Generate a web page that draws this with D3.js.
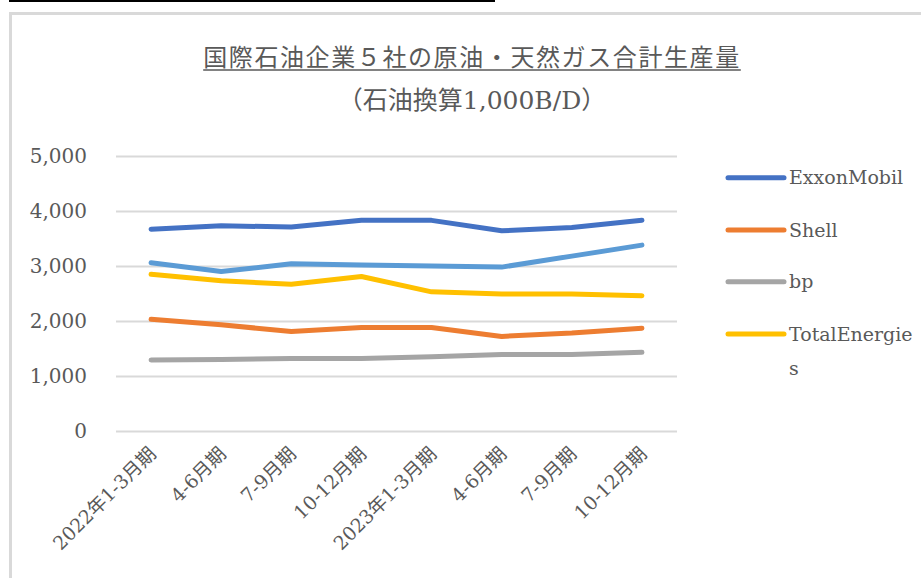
<!DOCTYPE html>
<html>
<head>
<meta charset="utf-8">
<script src="https://cdn.jsdelivr.net/npm/d3@7"></script>
<style>
  html, body { margin: 0; padding: 0; background: #fff; }
  svg { display: block; }
</style>
</head>
<body>
<svg id="chart" width="921" height="578"></svg>
<script>
// ---- Data ----
const categories = ["2022年1-3月期", "4-6月期", "7-9月期", "10-12月期", "2023年1-3月期", "4-6月期", "7-9月期", "10-12月期"];
const exxonMobil = [3670, 3730, 3710, 3830, 3830, 3640, 3700, 3830];
const shell = [2030, 1930, 1810, 1880, 1880, 1720, 1780, 1870];
const bp = [1290, 1300, 1320, 1320, 1350, 1390, 1390, 1430];
const totalEnergies = [2850, 2730, 2670, 2810, 2530, 2490, 2490, 2460];
const chevron = [3060, 2900, 3040, 3020, 3000, 2980, 3180, 3380];
const yTicks = [0, 1000, 2000, 3000, 4000, 5000];
const titleText = "国際石油企業５社の原油・天然ガス合計生産量";
const subtitleText = "（石油換算1,000B/D）";

const series = [
  { name: "ExxonMobil", values: exxonMobil, color: "#4472C4", legend: ["ExxonMobil"] },
  { name: "Shell", values: shell, color: "#ED7D31", legend: ["Shell"] },
  { name: "bp", values: bp, color: "#A5A5A5", legend: ["bp"] },
  { name: "TotalEnergies", values: totalEnergies, color: "#FFC000", legend: ["TotalEnergie", "s"] },
  { name: "Chevron", values: chevron, color: "#5B9BD5", legend: null }
];

// ---- Layout ----
const svg = d3.select("#chart");
const textColor = "#595959";
const latinFont = "'DejaVu Serif', 'Noto Sans CJK JP', serif";
const cjkFont = "'Noto Sans CJK JP', 'DejaVu Serif', sans-serif";

svg.append("rect").attr("width", 921).attr("height", 578).attr("fill", "#fff");

// top black rule (fragment of page above)
svg.append("line").attr("x1", 9).attr("x2", 495).attr("y1", 1).attr("y2", 1)
  .attr("stroke", "#000").attr("stroke-width", 2);

// chart frame
svg.append("rect").attr("x", 10.5).attr("y", 13.5).attr("width", 940).attr("height", 600)
  .attr("fill", "none").attr("stroke", "#d9d9d9").attr("stroke-width", 3);

const plot = { left: 116, right: 677, top: 156, bottom: 431 };

const x = d3.scaleBand().domain(d3.range(categories.length)).range([plot.left, plot.right]);
const y = d3.scaleLinear().domain([0, 5000]).range([plot.bottom, plot.top]);
const cx = i => x(i) + x.bandwidth() / 2;

// Y axis with gridlines
const yAxis = svg.append("g").attr("transform", `translate(${plot.left},0)`)
  .call(d3.axisLeft(y).tickValues(yTicks).tickFormat(d3.format(","))
    .tickSize(-(plot.right - plot.left)).tickPadding(29));
yAxis.select(".domain").remove();
yAxis.selectAll(".tick line").attr("stroke", "#d9d9d9").attr("stroke-width", 2);
yAxis.selectAll(".tick text").attr("fill", textColor).style("font-family", latinFont)
  .style("font-size", "20px").attr("dy", "0.3em");

// X axis labels
const xAxis = svg.append("g").attr("transform", `translate(0,${plot.bottom})`)
  .call(d3.axisBottom(x).tickFormat(i => categories[i]).tickSize(0).tickPadding(0));
xAxis.select(".domain").remove();
xAxis.selectAll(".tick text")
  .attr("fill", textColor).style("font-family", latinFont).style("font-size", "19px")
  .attr("text-anchor", "end").attr("dy", 0).attr("y", 0)
  .attr("transform", "translate(6,24) rotate(-45)");

// Lines
const line = d3.line().x((d, i) => cx(i)).y(d => y(d));
svg.append("g").selectAll("path").data(series).join("path")
  .attr("d", d => line(d.values))
  .attr("fill", "none").attr("stroke", d => d.color).attr("stroke-width", 5)
  .attr("stroke-linecap", "round").attr("stroke-linejoin", "round");

// Legend
const legendYs = [177.7, 230, 281.7, 334];
const legend = svg.append("g");
series.filter(s => s.legend).forEach((s, k) => {
  const ly = legendYs[k];
  legend.append("line").attr("x1", 728).attr("x2", 784).attr("y1", ly).attr("y2", ly)
    .attr("stroke", s.color).attr("stroke-width", 5).attr("stroke-linecap", "round");
  s.legend.forEach((t, j) => {
    legend.append("text").attr("x", 789).attr("y", ly + 6.7 + j * 34)
      .attr("fill", textColor).style("font-family", latinFont).style("font-size", "19px")
      .text(t);
  });
});

// Title
const title = svg.append("text").attr("x", 472).attr("y", 66).attr("text-anchor", "middle")
  .attr("fill", textColor).style("font-family", cjkFont).style("font-size", "24px")
  .style("letter-spacing", "1.6px").text(titleText);
const tw = title.node().getComputedTextLength();
svg.append("line").attr("x1", 472 - tw / 2).attr("x2", 472 + tw / 2)
  .attr("y1", 70).attr("y2", 70).attr("stroke", textColor).attr("stroke-width", 1.5);

svg.append("text").attr("x", 472).attr("y", 109).attr("text-anchor", "middle")
  .attr("fill", textColor).style("font-family", latinFont).style("font-size", "25px")
  .text(subtitleText);
</script>
</body>
</html>
